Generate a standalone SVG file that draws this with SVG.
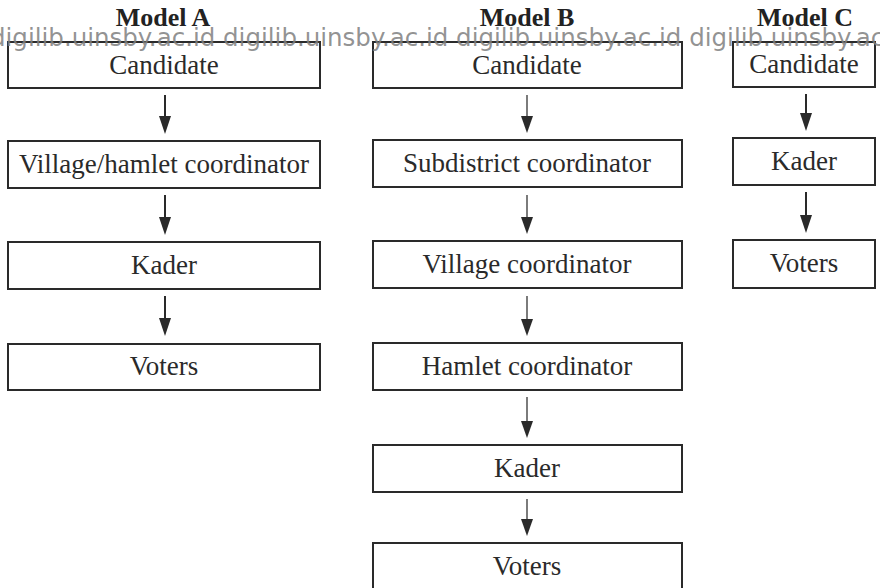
<svg xmlns="http://www.w3.org/2000/svg" width="880" height="588" viewBox="0 0 880 588">
<style>
.box{fill:#fff;stroke:#2a2a2a;stroke-width:2}
.lbl{font-family:"Liberation Serif","Times New Roman",serif;font-size:27px;fill:#2a2a2a;text-anchor:middle}
.ttl{font-family:"Liberation Serif","Times New Roman",serif;font-size:26px;font-weight:bold;fill:#222;text-anchor:middle}
.arr{stroke:#2a2a2a;stroke-width:2;fill:none}
.arrB{stroke:#444;stroke-width:1.4;fill:none}
.wm{font-family:"DejaVu Sans",sans-serif;font-size:24.5px;fill:#808080;fill-opacity:0.85}
</style>
<rect width="880" height="588" fill="#fff"/>
<g id="titles">
<text class="ttl" x="163" y="26">Model A</text>
<text class="ttl" x="527" y="26">Model B</text>
<text class="ttl" x="805" y="26">Model C</text>
</g>
<g id="connectors">
<line class="arr" x1="165" y1="95" x2="165" y2="118"/>
<line class="arr" x1="165" y1="195" x2="165" y2="219"/>
<line class="arr" x1="165" y1="296" x2="165" y2="320"/>
<line class="arrB" x1="527" y1="95" x2="527" y2="118"/>
<line class="arrB" x1="527" y1="195" x2="527" y2="219"/>
<line class="arrB" x1="527" y1="296" x2="527" y2="321"/>
<line class="arrB" x1="527" y1="397" x2="527" y2="423"/>
<line class="arrB" x1="527" y1="499" x2="527" y2="521"/>
<line class="arr" x1="806" y1="94" x2="806" y2="115"/>
<line class="arr" x1="806" y1="192" x2="806" y2="217"/>
<g fill="#2a2a2a">
<path d="M159,116 L171,116 L165,134 Z"/>
<path d="M159,217 L171,217 L165,235 Z"/>
<path d="M159,318 L171,318 L165,336 Z"/>
<path d="M521,116 L533,116 L527,133 Z"/>
<path d="M521,217 L533,217 L527,234 Z"/>
<path d="M521,319 L533,319 L527,336 Z"/>
<path d="M521,421 L533,421 L527,438 Z"/>
<path d="M521,519 L533,519 L527,536 Z"/>
<path d="M800,113 L812,113 L806,131 Z"/>
<path d="M800,215 L812,215 L806,233 Z"/>
</g>
</g>
<g id="a-candidate"><rect class="box" x="8" y="42" width="312" height="46"/><text class="lbl" x="164" y="74">Candidate</text></g>
<g id="a-village"><rect class="box" x="8" y="141" width="312" height="47"/><text class="lbl" x="164" y="173">Village/hamlet coordinator</text></g>
<g id="a-kader"><rect class="box" x="8" y="242" width="312" height="47"/><text class="lbl" x="164" y="274">Kader</text></g>
<g id="a-voters"><rect class="box" x="8" y="344" width="312" height="46"/><text class="lbl" x="164" y="375">Voters</text></g>
<g id="b-candidate"><rect class="box" x="373" y="42" width="309" height="46"/><text class="lbl" x="527" y="74">Candidate</text></g>
<g id="b-subdistrict"><rect class="box" x="373" y="140" width="309" height="47"/><text class="lbl" x="527" y="172">Subdistrict coordinator</text></g>
<g id="b-village"><rect class="box" x="373" y="241" width="309" height="47"/><text class="lbl" x="527" y="273">Village coordinator</text></g>
<g id="b-hamlet"><rect class="box" x="373" y="343" width="309" height="47"/><text class="lbl" x="527" y="375">Hamlet coordinator</text></g>
<g id="b-kader"><rect class="box" x="373" y="445" width="309" height="47"/><text class="lbl" x="527" y="477">Kader</text></g>
<g id="b-voters"><rect class="box" x="373" y="543" width="309" height="47"/><text class="lbl" x="527" y="575">Voters</text></g>
<g id="c-candidate"><rect class="box" x="733" y="42" width="142" height="45"/><text class="lbl" x="804" y="73">Candidate</text></g>
<g id="c-kader"><rect class="box" x="733" y="138" width="142" height="47"/><text class="lbl" x="804" y="170">Kader</text></g>
<g id="c-voters"><rect class="box" x="733" y="240" width="142" height="48"/><text class="lbl" x="804" y="272">Voters</text></g>
<text class="wm" x="-10" y="46">digilib.uinsby.ac.id digilib.uinsby.ac.id digilib.uinsby.ac.id digilib.uinsby.ac</text>
</svg>
